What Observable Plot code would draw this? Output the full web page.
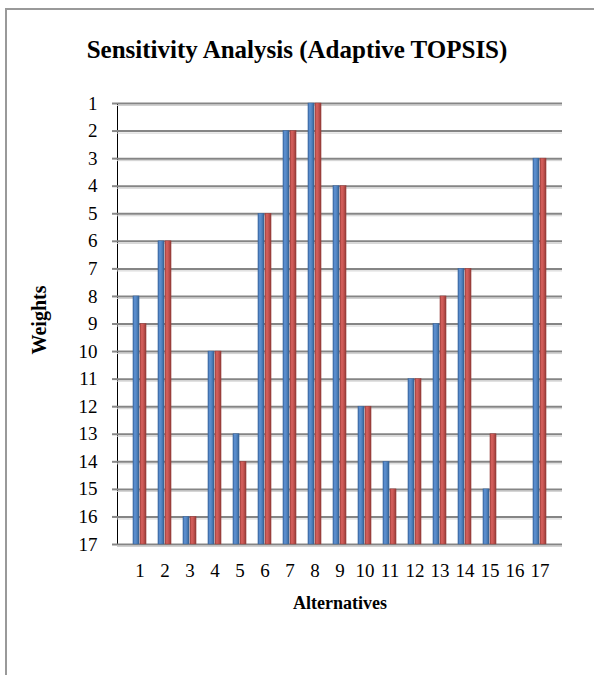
<!DOCTYPE html>
<html>
<head>
<meta charset="utf-8">
<script src="https://cdn.jsdelivr.net/npm/d3@7"></script>
<script src="https://cdn.jsdelivr.net/npm/@observablehq/plot@0.6"></script>
<style>
html,body{margin:0;padding:0;background:#fff;width:594px;height:675px;overflow:hidden;font-family:"Liberation Serif","Times New Roman",serif;color:#000;}
#frame{position:absolute;left:5px;top:8px;width:640px;height:720px;border-left:2px solid #999;border-top:2px solid #999;}
#title{position:absolute;left:0;width:594px;top:37px;line-height:25px;text-align:center;font-weight:bold;font-size:25px;white-space:nowrap;}
#ylab{position:absolute;left:39px;top:320px;line-height:20px;transform:translate(-50%,-50%) rotate(-90deg);font-weight:bold;font-size:20px;white-space:nowrap;}
#xlab{position:absolute;left:0;width:680px;top:593px;line-height:20px;text-align:center;font-weight:bold;font-size:18px;white-space:nowrap;}
#chart{position:absolute;left:0;top:0;}
#chart g[aria-label^="y-axis"] path, #chart g[aria-label^="y-axis"] line{stroke:#888;stroke-width:2px;}
</style>
</head>
<body>
<div id="frame"></div>
<div id="chart"></div>
<div id="title">Sensitivity Analysis (Adaptive TOPSIS)</div>
<div id="ylab">Weights</div>
<div id="xlab">Alternatives</div>
<script>
const alternatives = ["1","2","3","4","5","6","7","8","9","10","11","12","13","14","15","16","17"];
const seriesA = [8, 6, 16, 10, 13, 5, 2, 1, 4, 12, 14, 11, 9, 7, 15, 17, 3];
const seriesB = [9, 6, 16, 10, 14, 5, 2, 1, 4, 12, 15, 11, 8, 7, 13, 17, 3];
const yTicks = [1,2,3,4,5,6,7,8,9,10,11,12,13,14,15,16,17];
const baseline = 17;

const rows = alternatives.map((alt, i) => ({alt, a: seriesA[i], b: seriesB[i]}));

const xRange = [119, 560];
const step = (xRange[1] - xRange[0]) / alternatives.length;
const barW = 7;
const half = step / 2;

const chart = Plot.plot({
  width: 594,
  height: 675,
  marginTop: 103,
  marginBottom: 131,
  marginLeft: 117,
  marginRight: 32,
  style: {fontFamily: "'Liberation Serif','Times New Roman',serif", fontSize: "19px", color: "#000", background: "transparent"},
  x: {type: "band", domain: alternatives, range: xRange, padding: 0, tickSize: 0, tickPadding: 19, label: null},
  y: {domain: [17, 1], ticks: yTicks, tickSize: 5, tickPadding: 15, label: null, line: true},
  marks: [
    Plot.ruleY(yTicks, {stroke: "#d0d0d0", strokeWidth: 1, dy: 2}),
    Plot.ruleY(yTicks, {stroke: "#858585", strokeWidth: 2}),
    Plot.barY(rows, {x: "alt", y1: baseline, y2: "a", fill: "url(#gBlue)", stroke: "#3a659a", strokeWidth: 0.5, insetLeft: half - barW, insetRight: half}),
    Plot.barY(rows, {x: "alt", y1: baseline, y2: "b", fill: "url(#gRed)", stroke: "#963c3a", strokeWidth: 0.5, insetLeft: half, insetRight: half - barW})
  ]
});

const ns = "http://www.w3.org/2000/svg";
const defs = document.createElementNS(ns, "defs");
defs.innerHTML = `
<linearGradient id="gBlue" x1="0" x2="1" y1="0" y2="0">
  <stop offset="0" stop-color="#3b68a3"/>
  <stop offset="0.3" stop-color="#5e92d4"/>
  <stop offset="0.65" stop-color="#4f81bd"/>
  <stop offset="1" stop-color="#34608f"/>
</linearGradient>
<linearGradient id="gRed" x1="0" x2="1" y1="0" y2="0">
  <stop offset="0" stop-color="#a84441"/>
  <stop offset="0.3" stop-color="#d8625e"/>
  <stop offset="0.65" stop-color="#c0504d"/>
  <stop offset="1" stop-color="#8f3a37"/>
</linearGradient>`;
chart.insertBefore(defs, chart.firstChild);
document.getElementById("chart").appendChild(chart);
</script>
</body>
</html>
